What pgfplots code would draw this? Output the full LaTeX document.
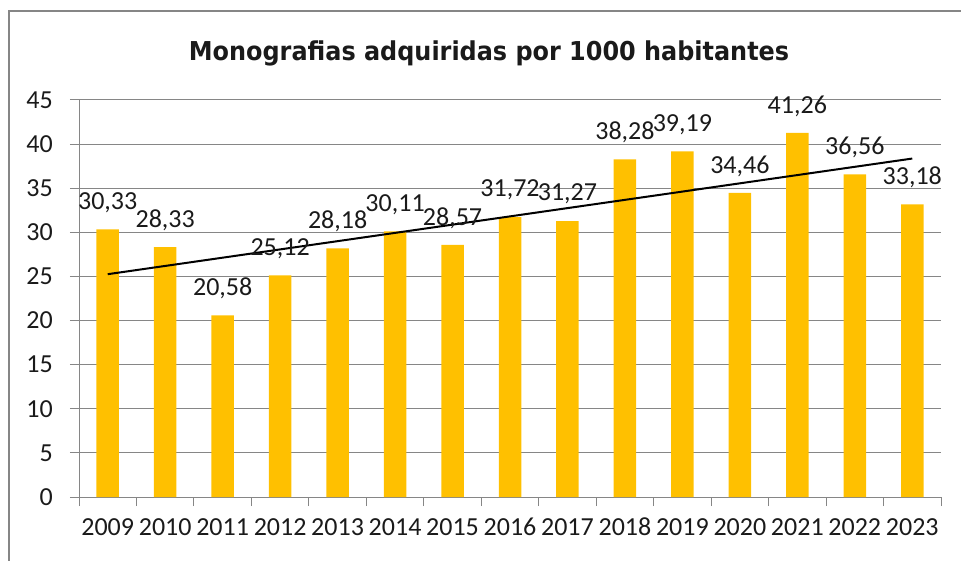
\documentclass[border=0pt]{standalone}
\usepackage{pgfplots}
\pgfplotsset{compat=1.18}
\usepackage{fontspec}
\setmainfont{Carlito}
\newfontfamily\titlefont{DejaVu Sans}[FakeStretch=0.92]
\definecolor{barc}{HTML}{FFC000}
\definecolor{gridc}{HTML}{868686}
\definecolor{txt}{HTML}{1A1A1A}
\begin{document}
\begin{tikzpicture}[x=1pt,y=1pt]
\useasboundingbox (0,0) rectangle (961,560);
\draw[gridc, line width=1.4pt] (9,549) rectangle (990,-30);
\node[text=txt, font=\titlefont\bfseries\fontsize{26}{30}\selectfont] at (489,507) {Monografias adquiridas por 1000 habitantes};
\begin{axis}[
  at={(79pt,63pt)}, anchor=south west, scale only axis,
  width=862pt, height=397pt,
  xmin=-0.5, xmax=14.5, ymin=0, ymax=45,
  ytick={0,5,...,45},
  xtick={-0.5,0.5,...,14.5}, xticklabels={},
  extra x ticks={0,1,...,14},
  extra x tick labels={2009,2010,2011,2012,2013,2014,2015,2016,2017,2018,2019,2020,2021,2022,2023},
  extra x tick style={major tick length=0pt, xticklabel style={inner sep=0pt, anchor=north, yshift=-21pt}},
  axis x line*=bottom, axis y line*=left,
  axis line style={gridc, line width=1pt},
  tick align=outside, major tick length=9pt,
  tick style={gridc, line width=1pt},
  ymajorgrids, grid style={gridc, line width=1pt},
  ticklabel style={font=\fontsize{26}{30}\selectfont, text=txt},
  yticklabel style={inner sep=0pt, anchor=east, xshift=-17pt},
  /pgf/number format/assume math mode=true,
  clip=false,
]
\addplot[ybar, bar width=22.5pt, fill=barc, draw=none,
  nodes near coords={\pgfmathprintnumber[fixed,fixed zerofill,precision=2,use comma,assume math mode=true]{\pgfplotspointmeta}},
  every node near coord/.append style={font=\fontsize{26}{30}\selectfont, text=txt, anchor=center, yshift=27pt}]
coordinates {(0,30.33) (1,28.33) (2,20.58) (3,25.12) (4,28.18) (5,30.11) (6,28.57) (7,31.72) (8,31.27) (9,38.28) (10,39.19) (11,34.46) (12,41.26) (13,36.56) (14,33.18)};
\addplot[black, line width=2pt, no marks] coordinates {(0,25.255) (14,38.363)};
\end{axis}
\end{tikzpicture}
\end{document}
